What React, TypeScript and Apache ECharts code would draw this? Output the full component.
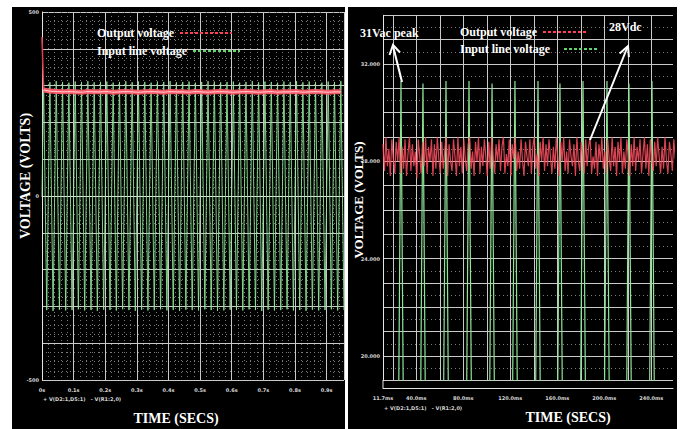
import React, { useEffect, useRef } from "react";
import * as echarts from "echarts";

// ---------- data ----------
// Left panel: x in seconds, y in volts
const leftXLabelValues = [0, 0.1, 0.2, 0.3, 0.4, 0.5, 0.6, 0.7, 0.8, 0.9];
const leftYLabelValues = [-500, 0, 500];
// input line voltage: peak and trough of each 50 Hz cycle
const leftHalfPeriod = 0.01;
const leftInputPeaks = [
  311, 309, 312, 310, 308, 311, 310, 312, 309, 310, 311, 308, 310, 312, 309, 311,
  310, 308, 311, 310, 312, 309, 310, 311, 308, 310, 312, 311, 309, 310, 311, 308,
  310, 312, 309, 311, 310, 308, 311, 310, 312, 309, 311, 310, 308, 311, 310, 312,
];
const leftInputTroughs = [
  -310, -312, -309, -311, -310, -308, -311, -310, -312, -309, -310, -311, -308, -310, -312, -309,
  -311, -310, -308, -311, -310, -312, -309, -310, -311, -308, -310, -312, -311, -309, -310, -311,
  -308, -310, -312, -309, -311, -310, -308, -311, -310, -312, -309, -311, -310, -308, -311, -310,
];
// output voltage: start value then one reading per cycle
const leftOutputStart = 432;
const leftOutput = [
  288, 285, 284, 283, 284, 283, 282, 284, 283, 283, 284, 282, 283, 284, 283, 282,
  283, 284, 283, 282, 284, 283, 283, 282, 284, 283, 282, 283, 284, 283, 282, 283,
  284, 283, 282, 283, 284, 282, 283, 283, 284, 282, 283, 284, 283, 282, 283, 283,
];

// Right panel: x in ms, y in volts
const rightXLabelValues = [11.7, 40, 80, 120, 160, 200, 240];
const rightXGridValues = [20, 40, 60, 80, 100, 120, 140, 160, 180, 200, 220, 240];
const rightYLabelValues = [20, 24, 28, 32];
const rightPeakTimes = [27.0, 45.7, 65.3, 84.9, 104.5, 124.0, 143.6, 162.3, 181.9, 202.3, 221.0, 240.6];
const rightPeakValues = [31.3, 31.2, 31.3, 31.3, 31.2, 31.3, 31.3, 31.2, 31.3, 31.3, 31.2, 31.3];
const rightTroughValues = [-31, -31, -31, -31, -31, -31, -31, -31, -31, -31, -31, -31, -31];
const rightOutputStart = 11.7;
const rightOutputStep = 1.25;
const rightOutput = [
  28.7, 27.6, 29.0, 27.8, 28.5, 27.4, 28.9, 28.1, 27.5, 28.8,
  28.0, 29.0, 27.5, 28.6, 27.7, 28.9, 27.4, 28.3, 29.0, 27.6,
  28.7, 27.8, 28.4, 27.3, 28.9, 28.2, 27.5, 28.8, 27.8, 29.0,
  27.5, 28.6, 28.0, 28.9, 27.4, 28.7, 27.7, 29.0, 28.1, 27.5,
  28.8, 27.7, 28.4, 29.0, 27.4, 28.7, 28.0, 27.6, 28.9, 28.2,
  27.4, 29.0, 27.8, 28.6, 27.5, 28.9, 28.1, 27.6, 28.7, 29.0,
  27.7, 28.4, 27.4, 28.8, 28.0, 29.0, 27.5, 28.6, 27.8, 28.9,
  28.2, 27.4, 28.8, 27.7, 29.0, 28.1, 27.5, 28.7, 28.0, 28.9,
  27.6, 28.6, 29.0, 27.5, 28.3, 27.8, 28.9, 27.4, 28.7, 28.1,
  29.0, 27.6, 28.4, 27.7, 28.9, 28.0, 27.4, 28.8, 28.2, 27.8,
  28.9, 27.5, 28.6, 29.0, 27.7, 28.3, 27.4, 28.8, 28.0, 29.0,
  27.6, 28.7, 27.8, 28.9, 28.2, 27.5, 28.6, 27.7, 29.0, 28.1,
  27.4, 28.8, 28.0, 29.0, 27.6, 28.4, 27.5, 28.9, 28.2, 27.8,
  28.7, 27.4, 29.0, 28.0, 27.6, 28.8, 28.3, 27.5, 28.9, 27.8,
  28.6, 29.0, 27.5, 28.2, 27.7, 28.8, 27.4, 28.7, 28.0, 29.0,
  27.7, 28.4, 27.5, 28.9, 28.1, 27.6, 29.0, 27.8, 28.6, 27.4,
  28.8, 28.0, 29.0, 27.5, 28.4, 27.7, 28.9, 28.2, 27.4, 28.7,
  27.8, 29.0, 27.6, 28.6, 28.0, 28.9, 27.5, 28.3, 29.0, 27.7,
  28.7, 27.4, 28.9, 28.1, 27.6, 28.8, 27.8, 29.0, 28.2, 27.5,
  28.6, 27.7, 29.0, 28.0, 27.5, 28.8, 28.3, 27.6, 28.9, 28.1,
];

const seriesNames = ["Output voltage", "Input line voltage"];
const axisTitles = { y: "VOLTAGE (VOLTS)", x: "TIME (SECS)" };
const traceCaption = "+ V(D2:1,D5:1)   - V(R1:2,0)";

// ---------- build tables ----------
const leftInputData: number[][] = [[0, 0]];
leftInputPeaks.forEach((p, i) => {
  leftInputData.push([leftHalfPeriod * (0.5 + 2 * i), p]);
  leftInputData.push([leftHalfPeriod * (1.5 + 2 * i), leftInputTroughs[i]]);
});
const leftOutputData: number[][] = leftOutput.map((v, i) => [leftHalfPeriod * (0.5 + 2 * i), v]);
const leftOutputStartData: number[][] = [[0, leftOutputStart], leftOutputData[0]];

const rightInputData: number[][] = [];
rightPeakTimes.forEach((t, i) => {
  const prev = i === 0 ? t - (rightPeakTimes[1] - rightPeakTimes[0]) : rightPeakTimes[i - 1];
  rightInputData.push([(prev + t) / 2, rightTroughValues[i]]);
  rightInputData.push([t, rightPeakValues[i]]);
});
{
  const n = rightPeakTimes.length;
  const last = rightPeakTimes[n - 1];
  rightInputData.push([last + (last - rightPeakTimes[n - 2]) / 2, rightTroughValues[n]]);
}
const rightOutputData = rightOutput.map((v, i) => [rightOutputStart + rightOutputStep * i, v]);

const GRID_COLOR = "#c9c9c9";
const MINOR_COLOR = "#7c7c7c";
const LABEL_COLOR = "#d6d6d6";
const GREEN = "#8ee596";
const RED = "#ff5a6a";
const SERIF = "'Liberation Serif', 'DejaVu Serif', serif";

export default function App() {
  const ref = useRef<HTMLDivElement>(null);

  useEffect(() => {
    if (!ref.current) return;
    const chart = echarts.init(ref.current, undefined, { renderer: "svg" });

    const tinyLabel = {
      color: LABEL_COLOR,
      fontSize: 5,
      fontWeight: "bold" as const,
      fontFamily: "'DejaVu Sans', sans-serif",
    };
    const whiteText = (x: number, y: number, text: string, size = 12, extra: any = {}) => ({
      type: "text",
      x,
      y,
      z: 100,
      style: {
        text,
        fill: "#ffffff",
        font: `bold ${size}px ${SERIF}`,
        textVerticalAlign: "middle",
        ...extra,
      },
    });
    const sample = (x1: number, x2: number, y: number, color: string) => ({
      type: "line",
      z: 100,
      shape: { x1, y1: y, x2, y2: y },
      style: { stroke: color, lineWidth: 2, lineDash: [3, 2] },
    });

    const option: any = {
      animation: false,
      backgroundColor: "#000000",
      grid: [
        { left: 42, top: 12, width: 302, height: 368 },
        { left: 383, top: 15.3, width: 290, height: 365 },
      ],
      xAxis: [
        {
          gridIndex: 0,
          type: "value",
          min: 0,
          max: 0.955,
          interval: 0.1,
          axisLine: { lineStyle: { color: "#e6e6e6", width: 1 } },
          axisTick: { show: false },
          axisLabel: {
            ...tinyLabel,
            margin: 7,
            showMaxLabel: false,
            formatter: (v: number) => {
              const hit = leftXLabelValues.find((x) => Math.abs(x - v) < 1e-6);
              return hit === undefined ? "" : hit === 0 ? "0s" : `${hit.toFixed(1)}s`;
            },
          },
          splitLine: { show: true, lineStyle: { color: GRID_COLOR, width: 1 } },
          minorTick: { show: false, splitNumber: 5 },
          minorSplitLine: { show: true, lineStyle: { color: MINOR_COLOR, type: [1, 3], width: 1 } },
        },
        {
          gridIndex: 1,
          type: "value",
          min: 11.7,
          max: 258.5,
          offset: 8,
          axisLine: { lineStyle: { color: "#e6e6e6", width: 1 } },
          axisTick: { show: false, customValues: rightXGridValues },
          axisLabel: {
            ...tinyLabel,
            margin: 7,
            customValues: rightXLabelValues,
            formatter: (v: number) => `${v.toFixed(1)}ms`,
          },
          splitLine: { show: true, lineStyle: { color: GRID_COLOR, width: 1 } },
        },
      ],
      yAxis: [
        {
          gridIndex: 0,
          type: "value",
          min: -500,
          max: 500,
          interval: 100,
          axisLine: { show: true, lineStyle: { color: "#e6e6e6", width: 1 } },
          axisTick: { show: false },
          axisLabel: {
            ...tinyLabel,
            margin: 3,
            formatter: (v: number) => (leftYLabelValues.includes(v) ? String(v) : ""),
          },
          splitLine: { show: true, lineStyle: { color: GRID_COLOR, width: 1 } },
          minorTick: { show: false, splitNumber: 4 },
          minorSplitLine: { show: true, lineStyle: { color: MINOR_COLOR, type: [1, 3], width: 1 } },
        },
        {
          gridIndex: 1,
          type: "value",
          min: 19,
          max: 34,
          interval: 1,
          axisLine: { show: true, lineStyle: { color: "#e6e6e6", width: 1 } },
          axisTick: { show: false },
          axisLabel: {
            ...tinyLabel,
            margin: 3,
            formatter: (v: number) => (rightYLabelValues.includes(v) ? v.toFixed(3) : ""),
          },
          splitLine: { show: true, lineStyle: { color: GRID_COLOR, width: 1 } },
          minorTick: { show: false, splitNumber: 2 },
          minorSplitLine: { show: true, lineStyle: { color: MINOR_COLOR, type: [1, 3], width: 1 } },
        },
      ],
      series: [
        {
          name: seriesNames[1],
          type: "line",
          xAxisIndex: 0,
          yAxisIndex: 0,
          data: leftInputData,
          showSymbol: false,
          symbol: "none",
          lineStyle: { color: GREEN, width: 1, opacity: 0.9 },
          z: 3,
        },
        {
          name: seriesNames[0] + "   ",
          type: "line",
          xAxisIndex: 0,
          yAxisIndex: 0,
          data: leftOutputStartData,
          symbol: "none",
          lineStyle: { color: "#e0404e", width: 1.5 },
          z: 4,
        },
        {
          name: seriesNames[0],
          type: "line",
          xAxisIndex: 0,
          yAxisIndex: 0,
          data: leftOutputData,
          symbol: "none",
          lineStyle: { color: RED, width: 5, opacity: 0.95 },
          z: 4,
        },
        {
          name: seriesNames[0] + " ",
          type: "line",
          xAxisIndex: 0,
          yAxisIndex: 0,
          data: leftOutputData,
          symbol: "none",
          lineStyle: { color: "#ffc4c4", width: 1.2 },
          z: 5,
        },
        {
          name: seriesNames[1] + " ",
          type: "line",
          xAxisIndex: 1,
          yAxisIndex: 1,
          data: rightInputData,
          symbol: "none",
          lineStyle: { color: GREEN, width: 1.2 },
          z: 3,
        },
        {
          name: seriesNames[0] + "  ",
          type: "line",
          xAxisIndex: 1,
          yAxisIndex: 1,
          data: rightOutputData,
          symbol: "none",
          lineStyle: { color: "#ff4f60", width: 1.2, opacity: 0.85 },
          z: 4,
        },
      ],
      graphic: [
        // white page margins and the gap between the two panels
        { type: "rect", z: 90, shape: { x: 0, y: 0, width: 680, height: 7 }, style: { fill: "#ffffff" } },
        { type: "rect", z: 90, shape: { x: 0, y: 0, width: 12, height: 429 }, style: { fill: "#ffffff" } },
        { type: "rect", z: 90, shape: { x: 345, y: 0, width: 3, height: 429 }, style: { fill: "#ffffff" } },
        { type: "rect", z: 90, shape: { x: 677, y: 0, width: 3, height: 429 }, style: { fill: "#ffffff" } },
        // right panel: left frame edge down to the offset time axis
        { type: "line", z: 50, shape: { x1: 383, y1: 380, x2: 383, y2: 388 }, style: { stroke: "#e6e6e6", lineWidth: 1 } },
        // legends
        whiteText(97, 33, seriesNames[0]),
        sample(180, 232, 33, "#ff4050"),
        whiteText(97, 51, seriesNames[1]),
        sample(193, 240, 51, "#62d46e"),
        whiteText(460, 32, seriesNames[0]),
        sample(543, 588, 32, "#ff4050"),
        whiteText(460, 49, seriesNames[1]),
        sample(564, 597, 49, "#62d46e"),
        // axis titles
        whiteText(176, 418, axisTitles.x, 14, { textAlign: "center" }),
        whiteText(568, 417, axisTitles.x, 14, { textAlign: "center" }),
        {
          type: "text",
          x: 25,
          y: 176,
          rotation: Math.PI / 2,
          z: 100,
          style: { text: axisTitles.y, fill: "#fff", font: `bold 14px ${SERIF}`, textAlign: "center", textVerticalAlign: "middle" },
        },
        {
          type: "text",
          x: 358,
          y: 200,
          rotation: Math.PI / 2,
          z: 100,
          style: { text: axisTitles.y, fill: "#fff", font: `bold 13px ${SERIF}`, textAlign: "center", textVerticalAlign: "middle" },
        },
        // trace captions
        { type: "text", x: 43, y: 399, z: 100, style: { text: traceCaption, fill: LABEL_COLOR, font: "bold 5px 'DejaVu Sans', sans-serif", textVerticalAlign: "middle" } },
        { type: "text", x: 384, y: 408, z: 100, style: { text: traceCaption, fill: LABEL_COLOR, font: "bold 5px 'DejaVu Sans', sans-serif", textVerticalAlign: "middle" } },
        // annotations
        whiteText(360, 33, "31Vac peak"),
        whiteText(609, 27, "28Vdc"),
        { type: "line", z: 100, shape: { x1: 402, y1: 82, x2: 393, y2: 46 }, style: { stroke: "#fff", lineWidth: 2 } },
        { type: "polyline", z: 100, shape: { points: [[389.5, 55], [393, 45], [400, 52.5]] }, style: { stroke: "#fff", lineWidth: 2, fill: null } },
        { type: "line", z: 100, shape: { x1: 590, y1: 140, x2: 627.5, y2: 47 }, style: { stroke: "#fff", lineWidth: 2 } },
        { type: "polyline", z: 100, shape: { points: [[619.6, 53.4], [628, 46], [628.9, 57.2]] }, style: { stroke: "#fff", lineWidth: 2, fill: null } },
      ],
    };

    chart.setOption(option);
    return () => chart.dispose();
  }, []);

  return <div ref={ref} style={{ position: "fixed", left: 0, top: 0, width: 680, height: 429 }} />;
}
